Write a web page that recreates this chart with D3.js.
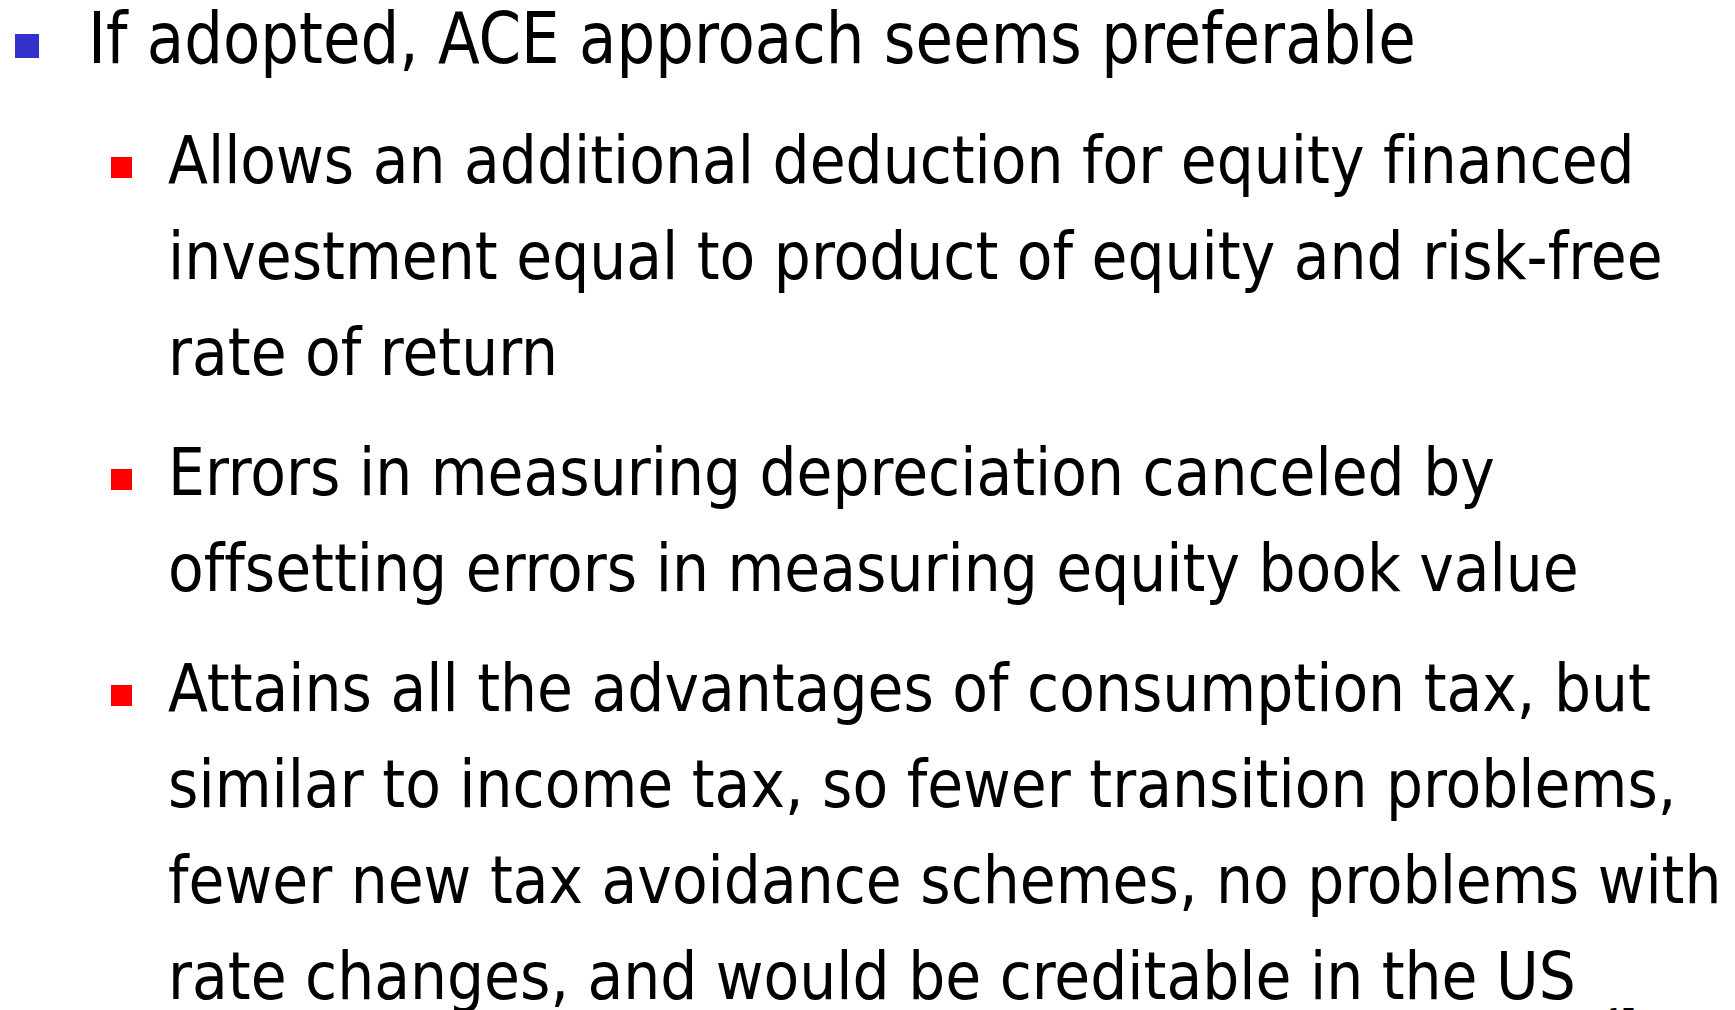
<!DOCTYPE html>
<html>
<head>
<meta charset="utf-8">
<script src="https://cdn.jsdelivr.net/npm/d3@7"></script>
<style>
  html, body { margin: 0; padding: 0; background: #ffffff; overflow: hidden; }
  svg { display: block; }
  text { font-variant-ligatures: none; font-feature-settings: "liga" 0, "clig" 0; }
</style>
</head>
<body>
<svg id="slide" width="1735" height="1010"></svg>
<script>
// ---- content ----
const headline = "If adopted, ACE approach seems preferable";
const subBullets = [
  ["Allows an additional deduction for equity financed",
   "investment equal to product of equity and risk-free",
   "rate of return"],
  ["Errors in measuring depreciation canceled by",
   "offsetting errors in measuring equity book value"],
  ["Attains all the advantages of consumption tax, but",
   "similar to income tax, so fewer transition problems,",
   "fewer new tax avoidance schemes, no problems with",
   "rate changes, and would be creditable in the US"]
];
const pageNumber = "17";

// ---- layout ----
const W = 1735, H = 1010;
const font = "Tahoma, 'DejaVu Sans Condensed', 'DejaVu Sans', sans-serif";
const svg = d3.select("#slide");

const headSize = 71, subSize = 65;
const headX = 88, subX = 168;
const headTargetW = 1328, subTargetW = 1467;

// headline
const hg = svg.append("g");
hg.append("rect").attr("x", 15).attr("y", 34).attr("width", 24).attr("height", 24).attr("fill", "#3333CC");
const ht = hg.append("text").attr("font-family", font).attr("font-size", headSize)
  .attr("fill", "#000").attr("y", 63).text(headline);
const hw = ht.node().getComputedTextLength();
const hsx = headTargetW / hw;
ht.attr("transform", `translate(${headX},0) scale(${hsx},1)`);

// sub bullets — vertical positions
const rows = [];
let y = 183;
subBullets.forEach((para, pi) => {
  if (pi > 0) y += 120 - 96;
  para.forEach((line, li) => {
    rows.push({ text: line, y: y, first: li === 0 });
    y += 96;
  });
});

const sg = svg.append("g");
const texts = sg.selectAll("text.sub").data(rows).join("text")
  .attr("class", "sub")
  .attr("font-family", font).attr("font-size", subSize).attr("fill", "#000")
  .attr("y", d => d.y).text(d => d.text);
const measured = texts.nodes()[0].getComputedTextLength();
const ssx = subTargetW / measured;
texts.attr("transform", `translate(${subX},0) scale(${ssx},1)`);

sg.selectAll("rect.b").data(rows.filter(d => d.first)).join("rect")
  .attr("class", "b")
  .attr("x", 111).attr("y", d => d.y - 26).attr("width", 21).attr("height", 21)
  .attr("fill", "#FF0000");

// page number
svg.append("text").attr("font-family", font).attr("font-size", 24).attr("fill", "#000")
  .attr("x", 1608).attr("y", 1026).text(pageNumber);
</script>
</body>
</html>
